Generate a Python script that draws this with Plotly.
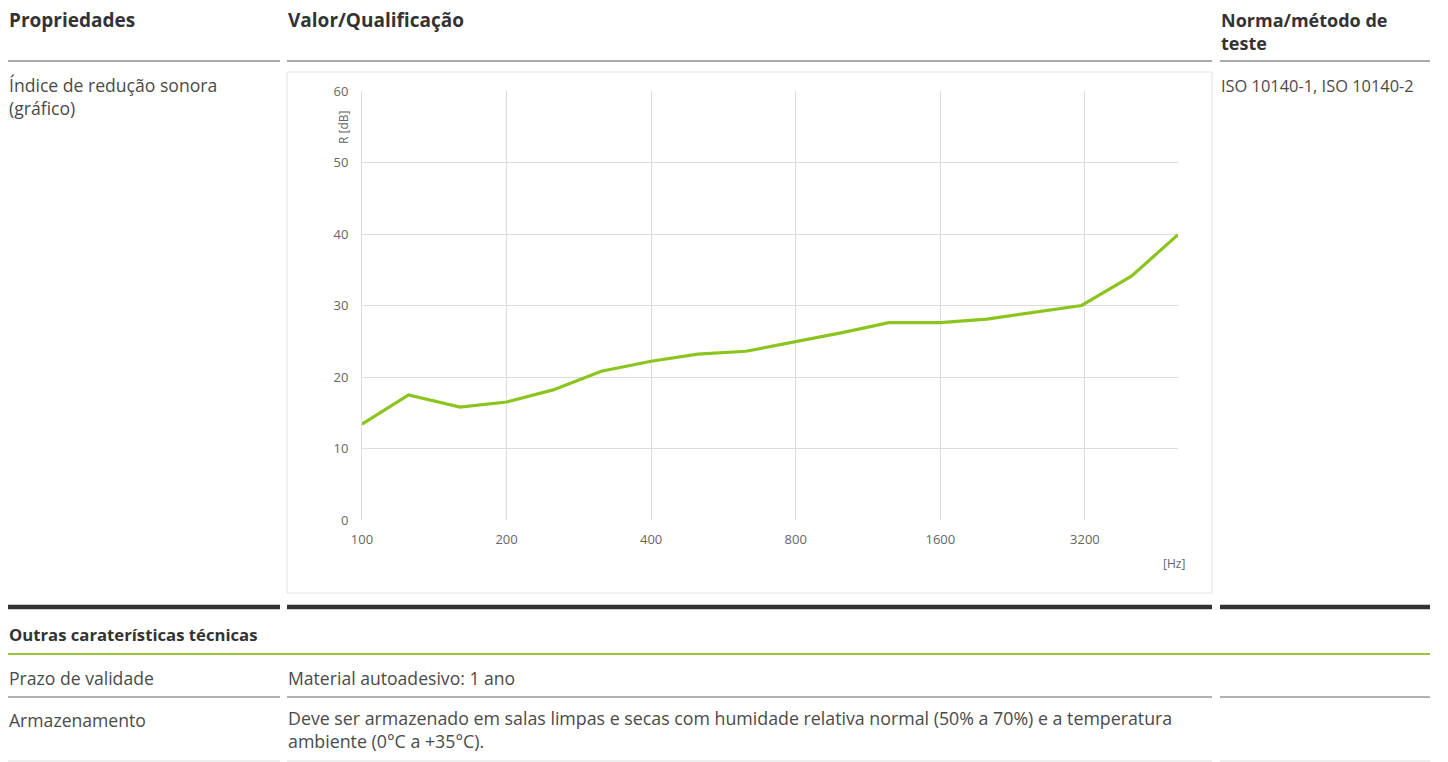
import plotly.graph_objects as go

# page is 1448x762, body keeps its 8px margin on the top/left
OFF = 8
W, H = 1448 - OFF, 762 - OFF

# sound reduction index R [dB] per third-octave band
freqs = [100, 125, 160, 200, 250, 315, 400, 500, 630, 800,
         1000, 1250, 1600, 2000, 2500, 3150, 4000, 5000]
r_db = [13.4, 17.5, 15.8, 16.5, 18.2, 20.8, 22.2, 23.2, 23.6, 24.9,
        26.2, 27.6, 27.6, 28.1, 29.0, 30.0, 34.1, 39.9]
x_ticks = [100, 200, 400, 800, 1600, 3200]
y_ticks = [0, 10, 20, 30, 40, 50, 60]

FONT = "Open Sans"
TXT = "#4a4a4a"
HEAD = "#333333"
GREEN = "#9cc43c"
AXIS = "#666666"
BODY = 17.6


def px(x):
    return (x - OFF) / W


def py(y):
    return 1 - (y - OFF) / H


fig = go.Figure()

fig.add_trace(go.Scatter(
    x=freqs, y=r_db, mode="lines",
    line=dict(color="#8cc41e", width=3.2),
    hoverinfo="x+y", showlegend=False,
))

shapes = []


def hline(y, segs, color, width):
    for x0, x1 in segs:
        shapes.append(dict(type="line", xref="paper", yref="paper",
                           x0=px(x0), x1=px(x1), y0=py(y), y1=py(y),
                           line=dict(color=color, width=width)))


cols = [(8, 280), (287, 1212), (1220, 1430)]
hline(61, cols, "#555555", 1)
hline(607, cols, "#333333", 4.5)
hline(654, [(8, 1430)], GREEN, 2)
hline(697, cols, "#666666", 1)
hline(761, cols, "#dddddd", 1)

# chart frame
shapes.append(dict(type="rect", xref="paper", yref="paper",
                   x0=px(287), x1=px(1212), y0=py(593), y1=py(72),
                   line=dict(color="#e2e2e2", width=1), layer="below"))

annotations = []


def label(x, y, text, size=BODY, bold=False, color=TXT, **kw):
    if bold:
        text = "<b>" + text + "</b>"
    annotations.append(dict(xref="paper", yref="paper", x=px(x), y=py(y),
                            xanchor=kw.pop("xanchor", "left"), yanchor="middle",
                            align="left", text=text, showarrow=False, borderpad=0,
                            font=dict(family=FONT, size=size, color=color), **kw))


label(8, 20, "Propriedades", size=19, bold=True, color=HEAD)
label(287, 20, "Valor/Qualificação", size=19, bold=True, color=HEAD)
label(1220, 31, "<b>Norma/método de</b><br><b>teste</b>", size=18, color=HEAD)

label(8, 96, "Índice de redução sonora<br>(gráfico)")
label(1220, 86, "ISO 10140-1, ISO 10140-2", size=16.4)

label(8, 634, "Outras caraterísticas técnicas", size=16.7, bold=True, color=HEAD)
label(8, 678, "Prazo de validade")
label(287, 678, "Material autoadesivo: 1 ano")
label(8, 720, "Armazenamento")
label(287, 729.5, "Deve ser armazenado em salas limpas e secas com humidade "
                  "relativa normal (50% a 70%) e a temperatura<br>"
                  "ambiente (0°C a +35°C).", size=17.8)

# chart axis titles
label(343, 128, "R [dB]", size=12, color=AXIS, xanchor="center", textangle=-90)
label(1174, 563, "[Hz]", size=12, color=AXIS, xanchor="center")

fig.update_layout(
    width=W, height=H, autosize=False,
    margin=dict(l=0, r=0, t=0, b=0, pad=0, autoexpand=False),
    paper_bgcolor="white", plot_bgcolor="white",
    shapes=shapes, annotations=annotations,
    xaxis=dict(type="log", range=[2, 3.699], domain=[px(362), px(1178)],
               tickvals=x_ticks, ticktext=[str(v) for v in x_ticks],
               showgrid=True, gridcolor="#dcdcdc", gridwidth=1,
               zeroline=False, showline=False, ticks="", automargin=False,
               tickfont=dict(family=FONT, size=13, color=AXIS),
               ticklabelstandoff=10),
    yaxis=dict(range=[0, 60], tickvals=y_ticks, domain=[py(520), py(91)],
               showgrid=True, gridcolor="#dcdcdc", gridwidth=1,
               zeroline=False, showline=True, linecolor="#dcdcdc", ticks="",
               automargin=False,
               tickfont=dict(family=FONT, size=13, color=AXIS),
               ticklabelstandoff=10),
)

fig.write_html("out.html")
